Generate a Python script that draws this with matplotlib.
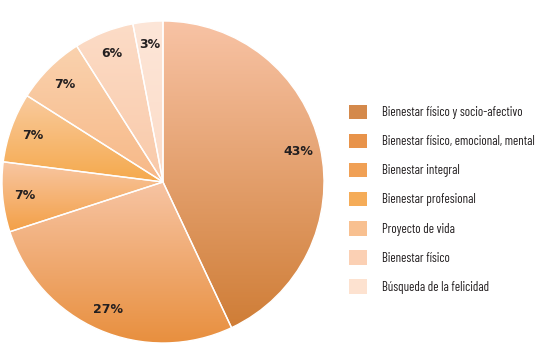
import os
import numpy as np
import matplotlib
matplotlib.use("Agg")
import matplotlib.pyplot as plt
from matplotlib.colors import LinearSegmentedColormap
from matplotlib.patches import Patch, Wedge
from matplotlib import font_manager

# data
labels = ['Bienestar físico y socio-afectivo',
          'Bienestar físico, emocional, mental',
          'Bienestar integral',
          'Bienestar profesional',
          'Proyecto de vida',
          'Bienestar físico',
          'Búsqueda de la felicidad']
values = [43, 27, 7, 7, 7, 6, 3]

# base (legend) colours and the two ends of each slice gradient
base_colors = ['#d4894b', '#e8934a', '#f0a055', '#f5ac58', '#f8c090', '#fbd0b4', '#fde2d0']
top_colors = ['#f8c3a5', '#f7c4a3', '#f8c6a2', '#f9cb9f', '#fad2ae', '#fcdcc7', '#fde6d8']
bottom_colors = ['#cf7d36', '#e88f3e', '#f3a046', '#f5a94c', '#f7b887', '#f9c9a8', '#fcdcc8']

# condensed face for the legend (Barlow Condensed if present)
font_files = {os.path.basename(f.fname): f.fname for f in font_manager.fontManager.ttflist}
legend_font = None
for name in ['BarlowCondensed-Regular.ttf', 'AsapCondensed-Regular.ttf', 'ArchivoNarrow[wght].ttf']:
    if name in font_files:
        legend_font = font_files[name]
        break
if legend_font:
    legend_prop = font_manager.FontProperties(fname=legend_font, size=9.3)
else:
    legend_prop = font_manager.FontProperties(family='Liberation Sans', size=7.5)

fig = plt.figure(figsize=(5.47, 3.52), dpi=100)
ax = fig.add_axes([2 / 547, 9 / 352, 322 / 547, 322 / 352])

wedges, texts, autotexts = ax.pie(values, startangle=90, counterclock=False,
                                  colors=base_colors, radius=1,
                                  autopct='%d%%', pctdistance=0.86,
                                  wedgeprops=dict(edgecolor='white', linewidth=1),
                                  textprops=dict(fontsize=9, fontweight='bold', color='#231f20'))

# vertical gradient inside every slice
for w, c_top, c_bot in zip(wedges, top_colors, bottom_colors):
    verts = w.get_path().vertices
    y0, y1 = verts[:, 1].min(), verts[:, 1].max()
    x0, x1 = verts[:, 0].min(), verts[:, 0].max()
    cmap = LinearSegmentedColormap.from_list('g', [c_bot, c_top])
    grad = np.linspace(0, 1, 256).reshape(-1, 1)
    im = ax.imshow(grad, cmap=cmap, origin='lower', aspect='auto',
                   extent=[x0, x1, y0, y1], zorder=w.get_zorder() + 0.1)
    im.set_clip_path(w)
    ax.add_patch(Wedge(w.center, w.r, w.theta1, w.theta2, facecolor='none',
                       edgecolor='white', linewidth=1, zorder=w.get_zorder() + 0.2))

for t in autotexts:
    t.set_zorder(10)

ax.set_xlim(-1, 1)
ax.set_ylim(-1, 1)
ax.set_aspect('equal')
ax.axis('off')

handles = [Patch(facecolor=c, edgecolor='none') for c in base_colors]
leg = fig.legend(handles, labels, loc='upper left', bbox_to_anchor=(337 / 547, 1 - 93 / 352),
                 frameon=False, handlelength=1.39, handleheight=1.34,
                 handletextpad=1.16, labelspacing=1.13, prop=legend_prop)
for t in leg.get_texts():
    t.set_color('#231f20')

fig.savefig('out.png', dpi=100)
